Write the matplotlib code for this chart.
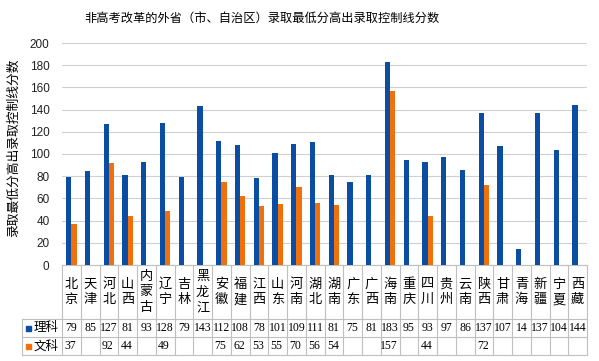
import numpy as np
import matplotlib
matplotlib.use('Agg')
import matplotlib.pyplot as plt
from matplotlib.transforms import blended_transform_factory
from matplotlib.lines import Line2D
from matplotlib.patches import Rectangle

plt.rcParams['font.family'] = ['Noto Sans CJK SC', 'DejaVu Sans']

provinces = ['北京', '天津', '河北', '山西', '内蒙古', '辽宁', '吉林', '黑龙江', '安徽', '福建',
             '江西', '山东', '河南', '湖北', '湖南', '广东', '广西', '海南', '重庆', '四川',
             '贵州', '云南', '陕西', '甘肃', '青海', '新疆', '宁夏', '西藏']
science = [79, 85, 127, 81, 93, 128, 79, 143, 112, 108, 78, 101, 109, 111, 81, 75, 81, 183, 95, 93,
           97, 86, 137, 107, 14, 137, 104, 144]
arts = [37, None, 92, 44, None, 49, None, None, 75, 62, 53, 55, 70, 56, 54, None, None, 157, None, 44,
        None, None, 72, None, None, None, None, None]
series_names = ['理科', '文科']
colors = ['#0B4DA2', '#F0700C']
yticks = [0, 20, 40, 60, 80, 100, 120, 140, 160, 180, 200]

W, H = 599, 361
fig = plt.figure(figsize=(W / 100, H / 100), dpi=100)
left_px, right_px, top_px, bot_px = 62, 587, 43, 265
ax = fig.add_axes([left_px / W, 1 - bot_px / H, (right_px - left_px) / W, (bot_px - top_px) / H])

n = len(provinces)
x = np.arange(n)
bw = 0.28
sci = np.array(science, dtype=float)
art = np.array([np.nan if v is None else v for v in arts], dtype=float)
ax.bar(x - bw / 2, sci, bw, color=colors[0], zorder=3)
ax.bar(x + bw / 2, art, bw, color=colors[1], zorder=3)

ax.set_xlim(-0.5, n - 0.5)
ax.set_ylim(0, 200)
ax.set_yticks(yticks)
ax.set_yticklabels([str(v) for v in yticks], family='Liberation Sans', fontsize=8.5, color='#222222')
ax.tick_params(axis='y', length=0, pad=9)
ax.set_xticks([])
ax.grid(axis='y', color='#D0D0D0', linewidth=0.8, zorder=0)
for s in ['top', 'right', 'left', 'bottom']:
    ax.spines[s].set_visible(False)

fig.text(13 / W, 1 - 148 / H, '录取最低分高出录取控制线分数', rotation=90,
         ha='center', va='center', fontsize=9.2)
fig.text(262 / W, 1 - 18 / H, '非高考改革的外省（市、自治区）录取最低分高出录取控制线分数',
         ha='center', va='center', fontsize=8.8, weight='medium')

# data table under the axis
px_h = bot_px - top_px
def yf(py):
    return (bot_px - py) / px_h
tr = blended_transform_factory(ax.transData, ax.transAxes)
lc = '#BFBFBF'
x_leg = -0.5 - (left_px - 22) / ((right_px - left_px) / n)
rows = [265, 319, 337, 355]
for i, py in enumerate(rows):
    x0 = -0.5 if i == 0 else x_leg
    ax.add_line(Line2D([x0, n - 0.5], [yf(py)] * 2, transform=tr, color=lc, lw=0.8, clip_on=False))
for k in range(n + 1):
    ax.add_line(Line2D([k - 0.5] * 2, [yf(265), yf(355)], transform=tr, color=lc, lw=0.8, clip_on=False))
ax.add_line(Line2D([x_leg] * 2, [yf(319), yf(355)], transform=tr, color=lc, lw=0.8, clip_on=False))

for k, name in enumerate(provinces):
    m = len(name)
    step = 15.5
    start = 292 - step * (m - 1) / 2
    for j, ch in enumerate(name):
        ax.text(k, yf(start + j * step), ch, transform=tr, ha='center', va='center',
                fontsize=9.5, clip_on=False)
    ax.text(k, yf(328), str(science[k]), transform=tr, ha='center', va='center',
            family='Liberation Serif', fontsize=8.5, clip_on=False)
    if arts[k] is not None:
        ax.text(k - 0.05, yf(346), str(arts[k]), transform=tr, ha='center', va='center',
                family='Liberation Serif', fontsize=8.5, clip_on=False)

for i, (name, c) in enumerate(zip(series_names, colors)):
    py = 328 + i * 18
    sq = 5 / ((right_px - left_px) / n)
    ax.add_patch(Rectangle((x_leg + 0.22, yf(py) - 2.5 / px_h), sq, 5 / px_h, transform=tr,
                           color=c, clip_on=False))
    ax.text(x_leg + 0.62, yf(py), name, transform=tr, ha='left', va='center', fontsize=9,
            clip_on=False)

fig.savefig('out.png', dpi=100)
